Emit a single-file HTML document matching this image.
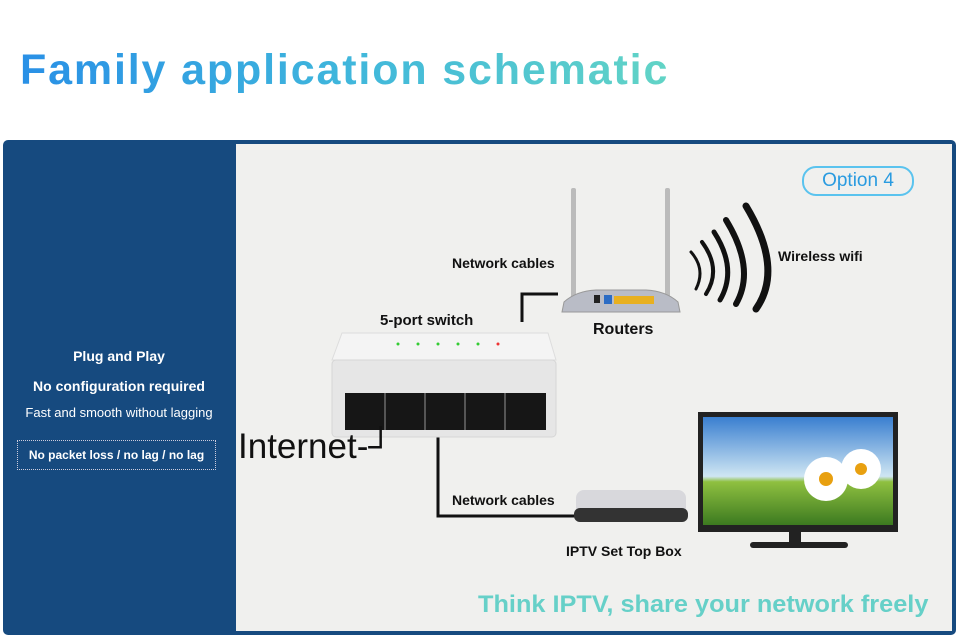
<!DOCTYPE html>
<html><head><meta charset="utf-8"><style>
body{margin:0;width:960px;height:644px;background:#fff;position:relative;overflow:hidden;font-family:"Liberation Sans",Arial,sans-serif}
.a{position:absolute}
.t{left:20px;top:46px;font-size:43px;letter-spacing:1.85px;font-weight:bold;background:linear-gradient(90deg,#2990e6,#3fb6dc 50%,#62d4c6);-webkit-background-clip:text;background-clip:text;color:transparent;white-space:nowrap}
.frame{left:3px;top:140px;width:953px;height:495px;background:#164a7f;border-radius:5px}
.inner{left:236px;top:144px;width:716px;height:487px;background:#f0f0ee}
.w{color:#fff;font-weight:bold;text-align:center;width:232px;left:3px}
.lbl{font-weight:bold;font-size:14px;color:#111;white-space:nowrap}
</style></head><body>
<div class="a t">Family application schematic</div>
<div class="a frame"></div>
<div class="a inner"></div>
<div class="a w" style="top:348px;font-size:14px">Plug and Play</div>
<div class="a w" style="top:378px;font-size:14px">No configuration required</div>
<div class="a w" style="top:405px;font-size:13px;font-weight:normal">Fast and smooth without lagging</div>
<div class="a" style="left:17px;top:440px;width:199px;height:30px;border:1px dotted #ccd;box-sizing:border-box;color:#fff;font-weight:bold;font-size:12px;text-align:center;line-height:28px">No packet loss / no lag / no lag</div>

<div class="a" style="left:802px;top:166px;width:108px;height:26px;border:2px solid #5ac3ee;border-radius:14px;color:#2a9be0;font-size:19px;text-align:center;line-height:26px">Option 4</div>

<svg class="a" style="left:236px;top:144px" width="716" height="487">
<path d="M286 178 V150 H322" stroke="#111" stroke-width="3" fill="none"/>
<path d="M202 293 V372 H340" stroke="#111" stroke-width="3" fill="none"/>
<!-- switch -->
<path d="M106 189 L312 189 L320 216 L96 216 Z" fill="#f4f4f4" stroke="#ddd"/>
<rect x="96" y="216" width="224" height="77" rx="4" fill="#e6e6e6" stroke="#d6d6d6"/>
<rect x="109" y="249" width="201" height="37" fill="#161616"/>
<g stroke="#555" stroke-width="2"><line x1="149" y1="249" x2="149" y2="286"/><line x1="189" y1="249" x2="189" y2="286"/><line x1="229" y1="249" x2="229" y2="286"/><line x1="269" y1="249" x2="269" y2="286"/></g>
<g fill="#3c3"><circle cx="162" cy="200" r="1.5"/><circle cx="182" cy="200" r="1.5"/><circle cx="202" cy="200" r="1.5"/><circle cx="222" cy="200" r="1.5"/><circle cx="242" cy="200" r="1.5"/></g>
<circle cx="262" cy="200" r="1.5" fill="#e33"/>
<!-- router -->
<rect x="335" y="44" width="5" height="110" rx="2" fill="#bbb"/>
<rect x="429" y="44" width="5" height="110" rx="2" fill="#bbb"/>
<path d="M328 158 Q340 147 360 146 L410 146 Q430 147 442 158 L444 168 L326 168 Z" fill="#b9bcc6" stroke="#999"/>
<rect x="358" y="151" width="6" height="8" fill="#222"/><rect x="368" y="151" width="8" height="9" fill="#2c6cc4"/>
<rect x="378" y="152" width="40" height="8" fill="#e8b020"/>
<g fill="none" stroke="#111" stroke-linecap="round">
<path d="M455 108 Q470 125 460 145" stroke-width="3"/>
<path d="M466 98 Q486 125 470 150" stroke-width="4"/>
<path d="M478 88 Q502 125 484 156" stroke-width="5"/>
<path d="M490 76 Q520 125 500 160" stroke-width="6"/>
<path d="M510 62 Q548 125 520 165" stroke-width="7"/>
</g>
<rect x="340" y="346" width="110" height="30" rx="8" fill="#d8d8dc"/>
<rect x="338" y="364" width="114" height="14" rx="6" fill="#333"/>
<rect x="462" y="268" width="200" height="120" fill="#222"/>
<defs><linearGradient id="sky" x1="0" y1="0" x2="0" y2="1"><stop offset="0" stop-color="#3a7fd0"/><stop offset="0.55" stop-color="#cfe6f3"/><stop offset="0.6" stop-color="#8fc040"/><stop offset="1" stop-color="#3c7a20"/></linearGradient></defs>
<rect x="467" y="273" width="190" height="108" fill="url(#sky)"/>
<circle cx="590" cy="335" r="22" fill="#fff"/><circle cx="590" cy="335" r="7" fill="#e8a010"/>
<circle cx="625" cy="325" r="20" fill="#fff"/><circle cx="625" cy="325" r="6" fill="#e8a010"/>
<rect x="553" y="388" width="12" height="12" fill="#222"/>
<rect x="514" y="398" width="98" height="6" rx="3" fill="#222"/>
</svg>

<div class="a lbl" style="left:452px;top:255px">Network cables</div>
<div class="a lbl" style="left:778px;top:248px">Wireless wifi</div>
<div class="a lbl" style="left:380px;top:312px;font-size:15px">5-port switch</div>
<div class="a lbl" style="left:593px;top:321px;font-size:16px">Routers</div>
<div class="a lbl" style="left:452px;top:492px">Network cables</div>
<div class="a lbl" style="left:566px;top:543px">IPTV Set Top Box</div>
<div class="a" style="left:238px;top:427px;font-size:35px;color:#111;white-space:nowrap">Internet-┘</div>
<div class="a" style="left:478px;top:590px;font-size:23px;font-weight:bold;color:#66d0c8;white-space:nowrap;transform:scale(1.1,1.05);transform-origin:0 0">Think IPTV, share your network freely</div>
</body></html>
